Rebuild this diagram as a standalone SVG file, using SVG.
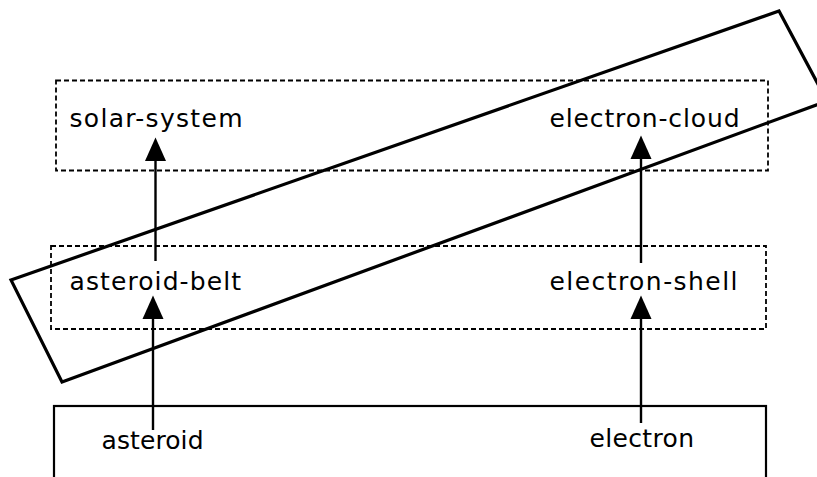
<svg xmlns="http://www.w3.org/2000/svg" width="817" height="477" viewBox="0 0 817 477">
<style>
.lbl{font-family:"DejaVu Sans","Liberation Sans",sans-serif;font-size:25px;fill:#000}
.dash{fill:none;stroke:#000;stroke-width:1.8;stroke-dasharray:5 3}
.solid{fill:none;stroke:#000;stroke-width:2.2}
.conn{fill:none;stroke:#000;stroke-width:2.4}
.band{fill:none;stroke:#000;stroke-width:3.2;stroke-linejoin:miter}
</style>
<defs>
<marker id="ah" markerUnits="userSpaceOnUse" markerWidth="24" markerHeight="22" viewBox="0 0 24 22" refX="13" refY="11" orient="auto">
<path d="M0,0.5 L23.5,11 L0,21.5 z" fill="#000"/>
</marker>
</defs>
<rect width="817" height="477" fill="#fff"/>
<g id="upper-level">
<rect class="dash" x="56" y="80.5" width="712" height="90"/>
</g>
<g id="middle-level">
<rect class="dash" x="51" y="246" width="715" height="83"/>
</g>
<g id="bottom-level">
<rect class="solid" x="54" y="406" width="712" height="80"/>
</g>
<g id="solar-system"><text class="lbl" x="69.5" y="127" textLength="173" lengthAdjust="spacing">solar-system</text></g>
<g id="electron-cloud"><text class="lbl" x="549.5" y="127" textLength="190" lengthAdjust="spacing">electron-cloud</text></g>
<g id="asteroid-belt"><text class="lbl" x="69.5" y="290" textLength="171.5" lengthAdjust="spacing">asteroid-belt</text></g>
<g id="electron-shell"><text class="lbl" x="549.5" y="290" textLength="188" lengthAdjust="spacing">electron-shell</text></g>
<g id="asteroid"><text class="lbl" x="101.5" y="449" textLength="102" lengthAdjust="spacing">asteroid</text></g>
<g id="electron"><text class="lbl" x="589.5" y="447" textLength="104.5" lengthAdjust="spacing">electron</text></g>
<g id="connectors">
<line class="conn" x1="155.5" y1="261" x2="155.5" y2="148" marker-end="url(#ah)"/>
<line class="conn" x1="641" y1="263" x2="641" y2="146" marker-end="url(#ah)"/>
<line class="conn" x1="153" y1="430" x2="153" y2="306" marker-end="url(#ah)"/>
<line class="conn" x1="641" y1="423" x2="641" y2="306" marker-end="url(#ah)"/>
</g>
<g id="grouping">
<polygon class="band" points="11,280 779,11 827,101 62,382"/>
</g>
</svg>
